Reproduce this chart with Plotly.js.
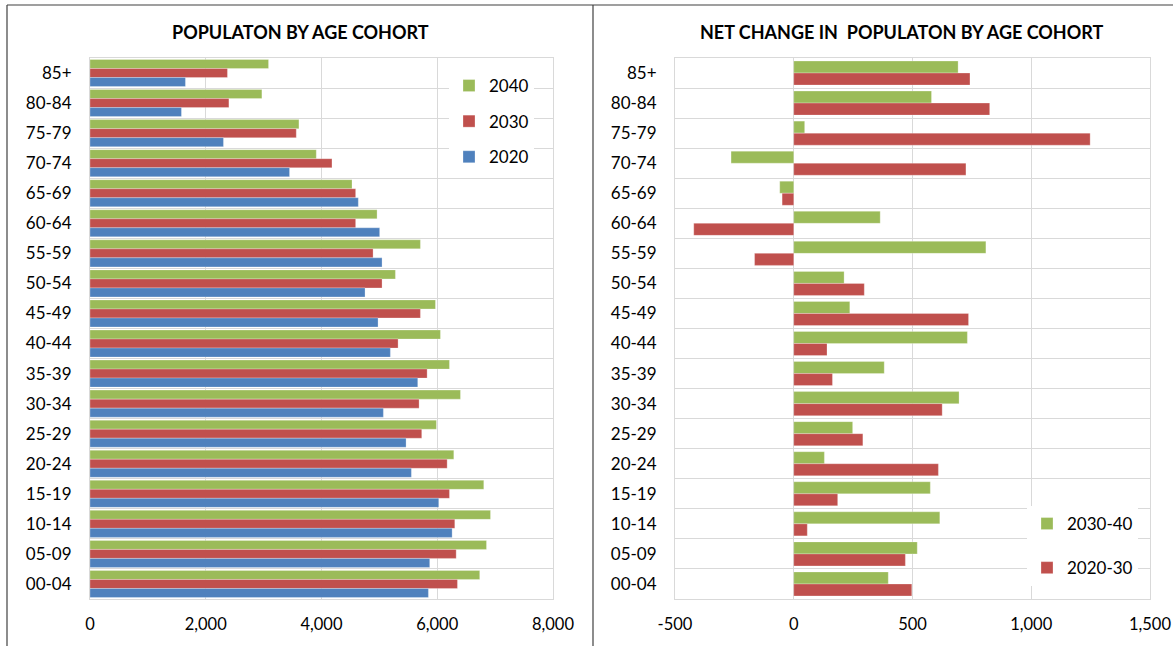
<!DOCTYPE html>
<html>
<head>
<meta charset="utf-8">
<script src="https://cdn.plot.ly/plotly-3.0.1.min.js"></script>
<style>html,body{margin:0;padding:0;background:#fff;}#chart{width:1173px;height:646px;}</style>
</head>
<body>
<div id="chart"></div>
<script>
// Age cohorts, top to bottom as shown
const cohorts = ["85+","80-84","75-79","70-74","65-69","60-64","55-59","50-54","45-49","40-44","35-39","30-34","25-29","20-24","15-19","10-14","05-09","00-04"];

// Population by age cohort
const pop2040 = [3085,2970,3610,3910,4527,4960,5709,5277,5969,6055,6211,6401,5986,6286,6804,6920,6851,6734];
const pop2030 = [2375,2400,3564,4181,4590,4590,4891,5046,5709,5323,5825,5686,5732,6171,6211,6303,6327,6349];
const pop2020 = [1649,1580,2306,3448,4636,5005,5046,4752,4977,5190,5663,5069,5461,5553,6026,6257,5870,5847];

// Net change in population by age cohort
const change2030_40 = [692,580,46,-264,-59,364,809,212,236,731,381,696,248,129,575,615,520,398];
const change2020_30 = [742,825,1248,725,-49,-421,-165,297,736,140,163,625,291,609,185,57,470,497];

const leftTicks = [0,2000,4000,6000,8000];
const rightTicks = [-500,0,500,1000,1500];
const fmt = v => (v < 0 ? "-" : "") + Math.abs(v).toLocaleString("en-US");

const W = 1173, H = 646;
const px = x => x / W;
const py = y => 1 - y / H;

const GREEN = "#9BBB59", RED = "#C0504D", BLUE = "#4F81BD";
const edge = {color: "rgba(255,255,255,0.45)", width: 0.6};
const FONT = "Lato, 'Open Sans', sans-serif";

const traces = [
  {type:"bar", orientation:"h", name:"2040", x:pop2040, y:cohorts, xaxis:"x", yaxis:"y",
   marker:{color:GREEN, line:edge}, width:0.3, offset:-0.45, legend:"legend", legendgroup:"a", hoverinfo:"x+y"},
  {type:"bar", orientation:"h", name:"2030", x:pop2030, y:cohorts, xaxis:"x", yaxis:"y",
   marker:{color:RED, line:edge}, width:0.3, offset:-0.15, legend:"legend", legendgroup:"b", hoverinfo:"x+y"},
  {type:"bar", orientation:"h", name:"2020", x:pop2020, y:cohorts, xaxis:"x", yaxis:"y",
   marker:{color:BLUE, line:edge}, width:0.3, offset:0.15, legend:"legend", legendgroup:"c", hoverinfo:"x+y"},
  {type:"bar", orientation:"h", name:"2030-40", x:change2030_40, y:cohorts, xaxis:"x2", yaxis:"y2",
   marker:{color:GREEN, line:edge}, width:0.4, offset:-0.4, legend:"legend2", legendgroup:"d", hoverinfo:"x+y"},
  {type:"bar", orientation:"h", name:"2020-30", x:change2020_30, y:cohorts, xaxis:"x2", yaxis:"y2",
   marker:{color:RED, line:edge}, width:0.4, offset:0, legend:"legend2", legendgroup:"e", hoverinfo:"x+y"}
];

const GRID = "#D9D9D9";
const yCommon = {
  type:"category", autorange:"reversed", tickson:"boundaries", ticks:"",
  showgrid:true, gridcolor:GRID, gridwidth:1, showline:true, linecolor:GRID, linewidth:1, mirror:true,
  tickfont:{family:FONT, size:17, color:"#000"}, ticklabelstandoff:14, fixedrange:true
};
const xCommon = {
  ticks:"", showgrid:true, gridcolor:GRID, gridwidth:1, showline:true, linecolor:GRID, linewidth:1, mirror:true,
  tickfont:{family:FONT, size:16.5, color:"#000"}, ticklabelstandoff:10, fixedrange:true
};

const layout = {
  width:W, height:H, margin:{l:0,r:0,t:0,b:0}, paper_bgcolor:"#fff", plot_bgcolor:"#fff",
  barmode:"overlay", showlegend:true,
  font:{family:FONT, color:"#000"},
  xaxis:Object.assign({}, xCommon, {domain:[px(90), px(553)], range:[0,8000], tickvals:leftTicks,
    ticktext:leftTicks.map(fmt), anchor:"y", zeroline:false}),
  yaxis:Object.assign({}, yCommon, {domain:[py(599), py(58)], anchor:"x"}),
  xaxis2:Object.assign({}, xCommon, {domain:[px(675), px(1150)], range:[-500,1500], tickvals:rightTicks,
    ticktext:rightTicks.map(fmt), anchor:"y2", zeroline:true, zerolinecolor:GRID, zerolinewidth:1}),
  yaxis2:Object.assign({}, yCommon, {domain:[py(599), py(58)], anchor:"x2"}),
  legend:{x:px(449), y:py(68), xanchor:"left", yanchor:"top", bgcolor:"#fff", borderwidth:0,
    font:{family:FONT, size:17, color:"#000"}, tracegroupgap:10.5, traceorder:"grouped", itemwidth:30},
  legend2:{x:px(1027), y:py(506), xanchor:"left", yanchor:"top", bgcolor:"#fff", borderwidth:0,
    font:{family:FONT, size:17, color:"#000"}, tracegroupgap:19, traceorder:"grouped", itemwidth:30},
  annotations:[
    {text:"<b>POPULATON BY AGE COHORT</b>", xref:"paper", yref:"paper", x:px(300), y:py(32),
     xanchor:"center", yanchor:"middle", showarrow:false, font:{family:FONT, size:18, color:"#000"}},
    {text:"<b>NET CHANGE IN  POPULATON BY AGE COHORT</b>", xref:"paper", yref:"paper", x:px(901), y:py(32),
     xanchor:"center", yanchor:"middle", showarrow:false, font:{family:FONT, size:18, color:"#000"}}
  ],
  shapes:[
    {type:"line", xref:"paper", yref:"paper", x0:px(7), x1:px(7), y0:py(5), y1:py(660), line:{color:"#404040", width:1.2}},
    {type:"line", xref:"paper", yref:"paper", x0:px(7), x1:px(1173), y0:py(5), y1:py(5), line:{color:"#404040", width:1.2}},
    {type:"line", xref:"paper", yref:"paper", x0:px(593), x1:px(593), y0:py(5), y1:py(660), line:{color:"#404040", width:1.2}}
  ]
};

Plotly.newPlot("chart", traces, layout, {displayModeBar:false, staticPlot:true});
</script>
</body>
</html>
